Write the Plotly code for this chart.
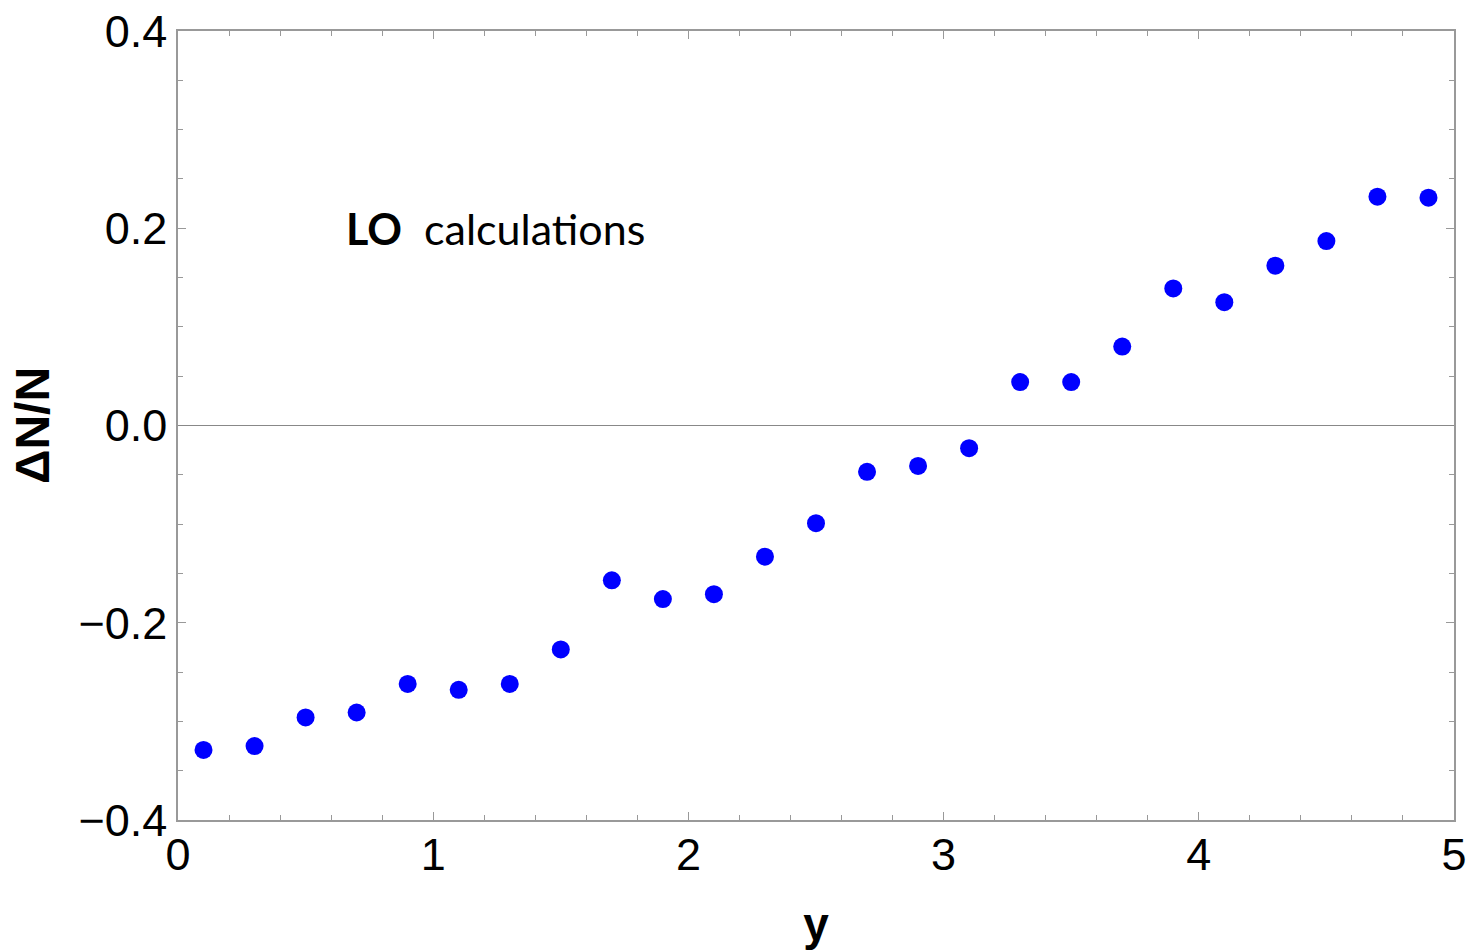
import plotly.graph_objects as go

y_vals = [0.1, 0.3, 0.5, 0.7, 0.9, 1.1, 1.3, 1.5, 1.7, 1.9, 2.1, 2.3, 2.5,
          2.7, 2.9, 3.1, 3.3, 3.5, 3.7, 3.9, 4.1, 4.3, 4.5, 4.7, 4.9]
dn_over_n = [-0.329, -0.325, -0.296, -0.291, -0.262, -0.268, -0.262, -0.227,
             -0.157, -0.176, -0.171, -0.133, -0.099, -0.047, -0.041, -0.023,
             0.044, 0.044, 0.080, 0.139, 0.125, 0.162, 0.187, 0.232, 0.231]
x_ticks = [0, 1, 2, 3, 4, 5]
y_ticks = [-0.4, -0.2, 0.0, 0.2, 0.4]
y_tick_text = ["\u22120.4", "\u22120.2", "0.0", "0.2", "0.4"]

fig = go.Figure()
fig.add_trace(go.Scatter(x=y_vals, y=dn_over_n, mode="markers",
                         marker=dict(color="#0000ff", size=18, line=dict(width=0)),
                         showlegend=False))

axis_common = dict(
    showgrid=False, zeroline=False, showline=True, linecolor="#999999",
    linewidth=1.5, mirror="ticks", ticks="inside", tickcolor="#999999",
    tickwidth=1.2, ticklen=8, automargin=False,
    tickfont=dict(family="Liberation Sans, Arial", size=45, color="black"),
)

fig.update_xaxes(range=[0, 5], tickvals=x_ticks, ticktext=[str(t) for t in x_ticks],
                 minor=dict(dtick=0.2, tick0=0, ticks="inside", ticklen=5,
                            tickcolor="#999999", tickwidth=1.2),
                 title=dict(text="<b>y</b>", font=dict(family="Liberation Sans, Arial",
                                                       size=46, color="black"), standoff=30),
                 ticklabelstandoff=-6, **axis_common)
fig.update_yaxes(range=[-0.4, 0.4], tickvals=y_ticks, ticktext=y_tick_text,
                 minor=dict(dtick=0.05, tick0=0, ticks="inside", ticklen=5,
                            tickcolor="#999999", tickwidth=1.2),
                 title=dict(text="<b>\u0394N/N</b>", font=dict(family="Liberation Sans, Arial",
                                                              size=48, color="black"), standoff=14),
                 **axis_common)

fig.add_shape(type="line", xref="paper", x0=0, x1=1, yref="y", y0=0, y1=0,
              line=dict(color="#888888", width=1.2))

fig.add_annotation(x=0.65, y=0.2, xref="x", yref="y", xanchor="left", yanchor="middle",
                   text="<b>LO</b>  calculations", showarrow=False,
                   font=dict(family="Lato, Carlito, Calibri", size=43, color="black"))

fig.update_layout(width=1470, height=950, plot_bgcolor="white", paper_bgcolor="white",
                  margin=dict(l=178, r=16, t=31, b=130))

fig.write_html("out.html")
